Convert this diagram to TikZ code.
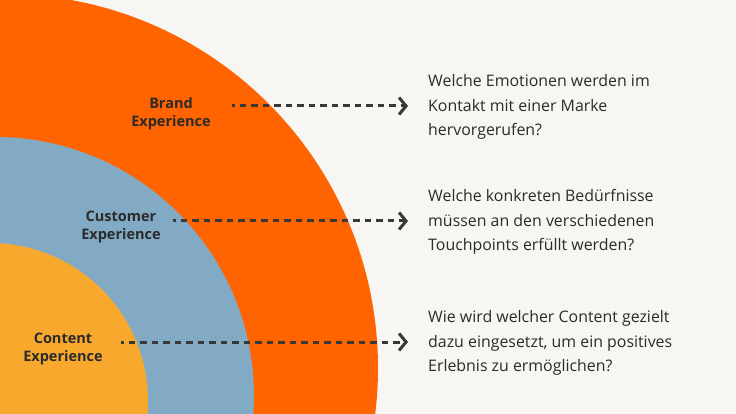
\documentclass[tikz,border=0pt]{standalone}
\usepackage{fontspec}
\setmainfont{Open Sans}
\usetikzlibrary{arrows.meta}
\definecolor{bgc}{HTML}{F8F6F3}
\definecolor{orangec}{HTML}{FF6400}
\definecolor{bluec}{HTML}{82AAC4}
\definecolor{yellowc}{HTML}{F9A82E}
\definecolor{txtc}{HTML}{2B2B2B}
\definecolor{linec}{HTML}{383838}
\tikzset{
  layerlabel/.style={align=center, text=txtc, inner sep=0pt, font=\fontsize{14.5}{18}\selectfont\bfseries},
  question/.style={align=left, anchor=west, text=txtc, inner sep=0pt, font=\fontsize{15.9}{24.5}\selectfont},
  dasharrow/.style={draw=linec, line width=3pt, dash pattern=on 6.5pt off 5pt, dash phase=4pt,
    -{Straight Barb[length=7pt,width=17pt,line width=3pt]}, shorten >=20pt}
}
\begin{document}
\begin{tikzpicture}[x=1pt,y=-1pt]
\useasboundingbox (0,0) rectangle (736,414);
\fill[bgc] (0,0) rectangle (736,414);
\begin{scope}
\clip (0,0) rectangle (736,414);
\fill[orangec] (4,368) circle[radius=374pt];
\fill[bluec] (-5,396) circle[radius=259pt];
\fill[yellowc] (-10,401) circle[radius=158pt];
\end{scope}
\node[layerlabel] (brand) at (171,113.5) {Brand\\Experience};
\node[layerlabel] (customer) at (121,226.5) {Customer\\Experience};
\node[layerlabel] (content) at (63,348.5) {Content\\Experience};
\node[question] (q1) at (428,107) {Welche Emotionen werden im\\Kontakt mit einer Marke\\hervorgerufen?};
\node[question] (q2) at (428,222) {Welche konkreten Bedürfnisse\\müssen an den verschiedenen\\Touchpoints erfüllt werden?};
\node[question] (q3) at (428,343) {Wie wird welcher Content gezielt\\dazu eingesetzt, um ein positives\\Erlebnis zu ermöglichen?};
\coordinate (s1) at (232,106);
\coordinate (s2) at (173,221);
\coordinate (s3) at (121,342);
\draw[dasharrow] (s1) -- (s1 -| q1.west);
\draw[dasharrow] (s2) -- (s2 -| q2.west);
\draw[dasharrow] (s3) -- (s3 -| q3.west);
\end{tikzpicture}
\end{document}
